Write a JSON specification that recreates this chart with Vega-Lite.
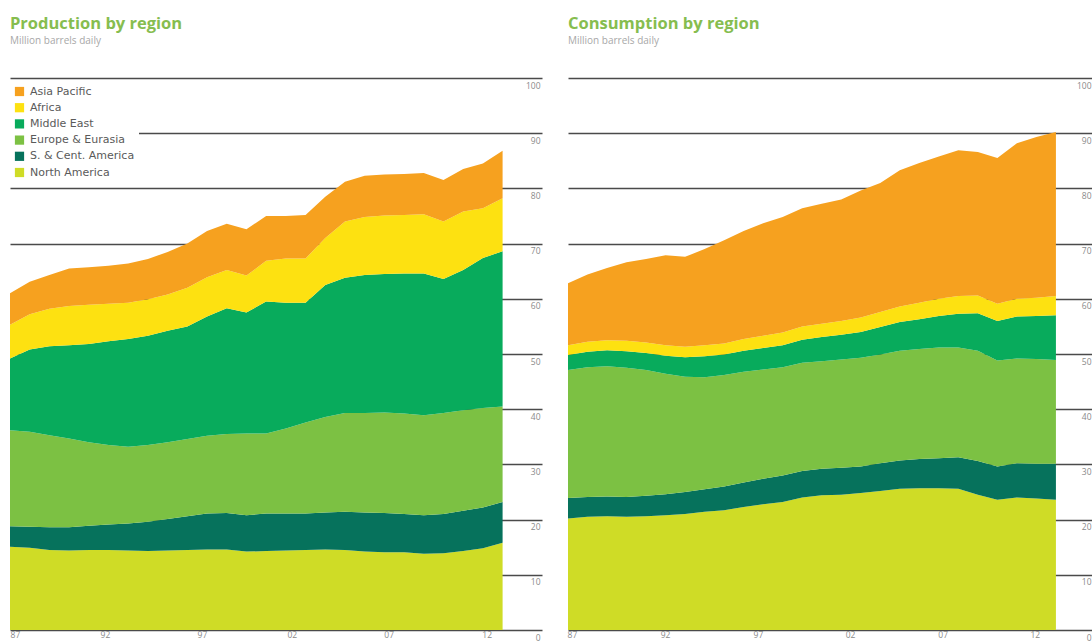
{
"$schema": "https://vega.github.io/schema/vega-lite/v6.json",
"background": "white",
"padding": {"left": 10, "top": 16, "right": 0, "bottom": 0},
"config": {
  "view": {"stroke": null},
  "font": "Open Sans",
  "concat": {"spacing": 25},
  "title": {"anchor": "start", "frame": "group", "fontSize": 16.5, "fontWeight": "bold", "color": "#86bd4f", "subtitleFontSize": 10, "subtitleColor": "#a8a8a8", "subtitlePadding": 3, "offset": 32.5},
  "axisX": {"domain": false, "ticks": false, "tickSize": 0, "grid": false, "labelFlush": false, "labelPadding": 0, "labelFontSize": 8.5, "labelColor": "#8a8a8a", "title": null},
  "axisY": {"orient": "right", "domain": false, "ticks": false, "tickSize": 0, "grid": true, "gridColor": "#4a4a4a", "gridWidth": 1.3, "labelFlush": false, "labelAlign": "right", "labelBaseline": "top", "labelPadding": -2, "labelOffset": 3, "labelFontSize": 8.5, "labelColor": "#8a8a8a", "title": null, "values": [0,10,20,30,40,50,60,70,80,90,100]}
},
"datasets": {
"production": [
{"year":1987,"region":"North America","value":15.1},{"year":1987,"region":"S. & Cent. America","value":3.7},{"year":1987,"region":"Europe & Eurasia","value":17.4},{"year":1987,"region":"Middle East","value":13.0},{"year":1987,"region":"Africa","value":6.1},{"year":1987,"region":"Asia Pacific","value":5.7},
{"year":1988,"region":"North America","value":14.9},{"year":1988,"region":"S. & Cent. America","value":3.8},{"year":1988,"region":"Europe & Eurasia","value":17.2},{"year":1988,"region":"Middle East","value":14.9},{"year":1988,"region":"Africa","value":6.4},{"year":1988,"region":"Asia Pacific","value":5.9},
{"year":1989,"region":"North America","value":14.5},{"year":1989,"region":"S. & Cent. America","value":4.1},{"year":1989,"region":"Europe & Eurasia","value":16.7},{"year":1989,"region":"Middle East","value":16.1},{"year":1989,"region":"Africa","value":6.8},{"year":1989,"region":"Asia Pacific","value":6.1},
{"year":1990,"region":"North America","value":14.4},{"year":1990,"region":"S. & Cent. America","value":4.2},{"year":1990,"region":"Europe & Eurasia","value":16.1},{"year":1990,"region":"Middle East","value":16.9},{"year":1990,"region":"Africa","value":7.1},{"year":1990,"region":"Asia Pacific","value":6.8},
{"year":1991,"region":"North America","value":14.5},{"year":1991,"region":"S. & Cent. America","value":4.4},{"year":1991,"region":"Europe & Eurasia","value":15.1},{"year":1991,"region":"Middle East","value":17.8},{"year":1991,"region":"Africa","value":7.1},{"year":1991,"region":"Asia Pacific","value":6.8},
{"year":1992,"region":"North America","value":14.5},{"year":1992,"region":"S. & Cent. America","value":4.6},{"year":1992,"region":"Europe & Eurasia","value":14.4},{"year":1992,"region":"Middle East","value":18.8},{"year":1992,"region":"Africa","value":6.8},{"year":1992,"region":"Asia Pacific","value":6.9},
{"year":1993,"region":"North America","value":14.4},{"year":1993,"region":"S. & Cent. America","value":4.9},{"year":1993,"region":"Europe & Eurasia","value":13.9},{"year":1993,"region":"Middle East","value":19.5},{"year":1993,"region":"Africa","value":6.6},{"year":1993,"region":"Asia Pacific","value":7.1},
{"year":1994,"region":"North America","value":14.3},{"year":1994,"region":"S. & Cent. America","value":5.3},{"year":1994,"region":"Europe & Eurasia","value":13.9},{"year":1994,"region":"Middle East","value":19.8},{"year":1994,"region":"Africa","value":6.6},{"year":1994,"region":"Asia Pacific","value":7.3},
{"year":1995,"region":"North America","value":14.4},{"year":1995,"region":"S. & Cent. America","value":5.7},{"year":1995,"region":"Europe & Eurasia","value":13.9},{"year":1995,"region":"Middle East","value":20.2},{"year":1995,"region":"Africa","value":6.6},{"year":1995,"region":"Asia Pacific","value":7.7},
{"year":1996,"region":"North America","value":14.5},{"year":1996,"region":"S. & Cent. America","value":6.1},{"year":1996,"region":"Europe & Eurasia","value":14.0},{"year":1996,"region":"Middle East","value":20.4},{"year":1996,"region":"Africa","value":7.0},{"year":1996,"region":"Asia Pacific","value":8.0},
{"year":1997,"region":"North America","value":14.6},{"year":1997,"region":"S. & Cent. America","value":6.5},{"year":1997,"region":"Europe & Eurasia","value":14.1},{"year":1997,"region":"Middle East","value":21.6},{"year":1997,"region":"Africa","value":7.1},{"year":1997,"region":"Asia Pacific","value":8.4},
{"year":1998,"region":"North America","value":14.6},{"year":1998,"region":"S. & Cent. America","value":6.6},{"year":1998,"region":"Europe & Eurasia","value":14.3},{"year":1998,"region":"Middle East","value":22.8},{"year":1998,"region":"Africa","value":6.9},{"year":1998,"region":"Asia Pacific","value":8.4},
{"year":1999,"region":"North America","value":14.2},{"year":1999,"region":"S. & Cent. America","value":6.6},{"year":1999,"region":"Europe & Eurasia","value":14.8},{"year":1999,"region":"Middle East","value":21.9},{"year":1999,"region":"Africa","value":6.7},{"year":1999,"region":"Asia Pacific","value":8.4},
{"year":2000,"region":"North America","value":14.3},{"year":2000,"region":"S. & Cent. America","value":6.8},{"year":2000,"region":"Europe & Eurasia","value":14.5},{"year":2000,"region":"Middle East","value":23.9},{"year":2000,"region":"Africa","value":7.4},{"year":2000,"region":"Asia Pacific","value":8.1},
{"year":2001,"region":"North America","value":14.4},{"year":2001,"region":"S. & Cent. America","value":6.7},{"year":2001,"region":"Europe & Eurasia","value":15.4},{"year":2001,"region":"Middle East","value":22.8},{"year":2001,"region":"Africa","value":8.0},{"year":2001,"region":"Asia Pacific","value":7.7},
{"year":2002,"region":"North America","value":14.5},{"year":2002,"region":"S. & Cent. America","value":6.6},{"year":2002,"region":"Europe & Eurasia","value":16.5},{"year":2002,"region":"Middle East","value":21.7},{"year":2002,"region":"Africa","value":8.0},{"year":2002,"region":"Asia Pacific","value":7.9},
{"year":2003,"region":"North America","value":14.6},{"year":2003,"region":"S. & Cent. America","value":6.7},{"year":2003,"region":"Europe & Eurasia","value":17.3},{"year":2003,"region":"Middle East","value":23.9},{"year":2003,"region":"Africa","value":8.5},{"year":2003,"region":"Asia Pacific","value":7.5},
{"year":2004,"region":"North America","value":14.5},{"year":2004,"region":"S. & Cent. America","value":6.9},{"year":2004,"region":"Europe & Eurasia","value":17.9},{"year":2004,"region":"Middle East","value":24.5},{"year":2004,"region":"Africa","value":10.2},{"year":2004,"region":"Asia Pacific","value":7.2},
{"year":2005,"region":"North America","value":14.2},{"year":2005,"region":"S. & Cent. America","value":7.1},{"year":2005,"region":"Europe & Eurasia","value":18.0},{"year":2005,"region":"Middle East","value":25.0},{"year":2005,"region":"Africa","value":10.5},{"year":2005,"region":"Asia Pacific","value":7.5},
{"year":2006,"region":"North America","value":14.1},{"year":2006,"region":"S. & Cent. America","value":7.1},{"year":2006,"region":"Europe & Eurasia","value":18.2},{"year":2006,"region":"Middle East","value":25.1},{"year":2006,"region":"Africa","value":10.6},{"year":2006,"region":"Asia Pacific","value":7.4},
{"year":2007,"region":"North America","value":14.1},{"year":2007,"region":"S. & Cent. America","value":6.9},{"year":2007,"region":"Europe & Eurasia","value":18.2},{"year":2007,"region":"Middle East","value":25.4},{"year":2007,"region":"Africa","value":10.6},{"year":2007,"region":"Asia Pacific","value":7.4},
{"year":2008,"region":"North America","value":13.8},{"year":2008,"region":"S. & Cent. America","value":7.0},{"year":2008,"region":"Europe & Eurasia","value":18.1},{"year":2008,"region":"Middle East","value":25.7},{"year":2008,"region":"Africa","value":10.7},{"year":2008,"region":"Asia Pacific","value":7.5},
{"year":2009,"region":"North America","value":13.9},{"year":2009,"region":"S. & Cent. America","value":7.1},{"year":2009,"region":"Europe & Eurasia","value":18.3},{"year":2009,"region":"Middle East","value":24.3},{"year":2009,"region":"Africa","value":10.4},{"year":2009,"region":"Asia Pacific","value":7.5},
{"year":2010,"region":"North America","value":14.3},{"year":2010,"region":"S. & Cent. America","value":7.3},{"year":2010,"region":"Europe & Eurasia","value":18.2},{"year":2010,"region":"Middle East","value":25.4},{"year":2010,"region":"Africa","value":10.6},{"year":2010,"region":"Asia Pacific","value":7.7},
{"year":2011,"region":"North America","value":14.8},{"year":2011,"region":"S. & Cent. America","value":7.4},{"year":2011,"region":"Europe & Eurasia","value":18.0},{"year":2011,"region":"Middle East","value":27.2},{"year":2011,"region":"Africa","value":9.0},{"year":2011,"region":"Asia Pacific","value":8.1},
{"year":2012,"region":"North America","value":15.8},{"year":2012,"region":"S. & Cent. America","value":7.4},{"year":2012,"region":"Europe & Eurasia","value":17.3},{"year":2012,"region":"Middle East","value":28.1},{"year":2012,"region":"Africa","value":9.6},{"year":2012,"region":"Asia Pacific","value":8.6}
],
"consumption": [
{"year":1987,"region":"North America","value":20.2},{"year":1987,"region":"S. & Cent. America","value":3.7},{"year":1987,"region":"Europe & Eurasia","value":23.2},{"year":1987,"region":"Middle East","value":2.7},{"year":1987,"region":"Africa","value":1.8},{"year":1987,"region":"Asia Pacific","value":11.2},
{"year":1988,"region":"North America","value":20.5},{"year":1988,"region":"S. & Cent. America","value":3.6},{"year":1988,"region":"Europe & Eurasia","value":23.5},{"year":1988,"region":"Middle East","value":2.8},{"year":1988,"region":"Africa","value":1.8},{"year":1988,"region":"Asia Pacific","value":12.2},
{"year":1989,"region":"North America","value":20.6},{"year":1989,"region":"S. & Cent. America","value":3.6},{"year":1989,"region":"Europe & Eurasia","value":23.6},{"year":1989,"region":"Middle East","value":2.9},{"year":1989,"region":"Africa","value":1.8},{"year":1989,"region":"Asia Pacific","value":13.1},
{"year":1990,"region":"North America","value":20.5},{"year":1990,"region":"S. & Cent. America","value":3.6},{"year":1990,"region":"Europe & Eurasia","value":23.4},{"year":1990,"region":"Middle East","value":3.0},{"year":1990,"region":"Africa","value":1.9},{"year":1990,"region":"Asia Pacific","value":14.2},
{"year":1991,"region":"North America","value":20.6},{"year":1991,"region":"S. & Cent. America","value":3.7},{"year":1991,"region":"Europe & Eurasia","value":22.8},{"year":1991,"region":"Middle East","value":3.1},{"year":1991,"region":"Africa","value":1.9},{"year":1991,"region":"Asia Pacific","value":15.1},
{"year":1992,"region":"North America","value":20.8},{"year":1992,"region":"S. & Cent. America","value":3.8},{"year":1992,"region":"Europe & Eurasia","value":21.8},{"year":1992,"region":"Middle East","value":3.3},{"year":1992,"region":"Africa","value":1.9},{"year":1992,"region":"Asia Pacific","value":16.3},
{"year":1993,"region":"North America","value":21.0},{"year":1993,"region":"S. & Cent. America","value":4.0},{"year":1993,"region":"Europe & Eurasia","value":20.9},{"year":1993,"region":"Middle East","value":3.5},{"year":1993,"region":"Africa","value":1.9},{"year":1993,"region":"Asia Pacific","value":16.3},
{"year":1994,"region":"North America","value":21.4},{"year":1994,"region":"S. & Cent. America","value":4.1},{"year":1994,"region":"Europe & Eurasia","value":20.3},{"year":1994,"region":"Middle East","value":3.8},{"year":1994,"region":"Africa","value":2.0},{"year":1994,"region":"Asia Pacific","value":17.4},
{"year":1995,"region":"North America","value":21.7},{"year":1995,"region":"S. & Cent. America","value":4.3},{"year":1995,"region":"Europe & Eurasia","value":20.2},{"year":1995,"region":"Middle East","value":3.7},{"year":1995,"region":"Africa","value":2.0},{"year":1995,"region":"Asia Pacific","value":18.7},
{"year":1996,"region":"North America","value":22.3},{"year":1996,"region":"S. & Cent. America","value":4.4},{"year":1996,"region":"Europe & Eurasia","value":20.1},{"year":1996,"region":"Middle East","value":3.8},{"year":1996,"region":"Africa","value":2.1},{"year":1996,"region":"Asia Pacific","value":19.6},
{"year":1997,"region":"North America","value":22.8},{"year":1997,"region":"S. & Cent. America","value":4.6},{"year":1997,"region":"Europe & Eurasia","value":19.8},{"year":1997,"region":"Middle East","value":3.9},{"year":1997,"region":"Africa","value":2.2},{"year":1997,"region":"Asia Pacific","value":20.4},
{"year":1998,"region":"North America","value":23.2},{"year":1998,"region":"S. & Cent. America","value":4.8},{"year":1998,"region":"Europe & Eurasia","value":19.6},{"year":1998,"region":"Middle East","value":4.0},{"year":1998,"region":"Africa","value":2.3},{"year":1998,"region":"Asia Pacific","value":20.9},
{"year":1999,"region":"North America","value":24.0},{"year":1999,"region":"S. & Cent. America","value":4.8},{"year":1999,"region":"Europe & Eurasia","value":19.6},{"year":1999,"region":"Middle East","value":4.2},{"year":1999,"region":"Africa","value":2.4},{"year":1999,"region":"Asia Pacific","value":21.4},
{"year":2000,"region":"North America","value":24.4},{"year":2000,"region":"S. & Cent. America","value":4.8},{"year":2000,"region":"Europe & Eurasia","value":19.5},{"year":2000,"region":"Middle East","value":4.4},{"year":2000,"region":"Africa","value":2.4},{"year":2000,"region":"Asia Pacific","value":21.7},
{"year":2001,"region":"North America","value":24.5},{"year":2001,"region":"S. & Cent. America","value":4.9},{"year":2001,"region":"Europe & Eurasia","value":19.6},{"year":2001,"region":"Middle East","value":4.5},{"year":2001,"region":"Africa","value":2.5},{"year":2001,"region":"Asia Pacific","value":22.0},
{"year":2002,"region":"North America","value":24.8},{"year":2002,"region":"S. & Cent. America","value":4.8},{"year":2002,"region":"Europe & Eurasia","value":19.7},{"year":2002,"region":"Middle East","value":4.7},{"year":2002,"region":"Africa","value":2.6},{"year":2002,"region":"Asia Pacific","value":23.0},
{"year":2003,"region":"North America","value":25.2},{"year":2003,"region":"S. & Cent. America","value":5.0},{"year":2003,"region":"Europe & Eurasia","value":19.7},{"year":2003,"region":"Middle East","value":5.0},{"year":2003,"region":"Africa","value":2.7},{"year":2003,"region":"Asia Pacific","value":23.4},
{"year":2004,"region":"North America","value":25.6},{"year":2004,"region":"S. & Cent. America","value":5.1},{"year":2004,"region":"Europe & Eurasia","value":19.9},{"year":2004,"region":"Middle East","value":5.2},{"year":2004,"region":"Africa","value":2.8},{"year":2004,"region":"Asia Pacific","value":24.7},
{"year":2005,"region":"North America","value":25.7},{"year":2005,"region":"S. & Cent. America","value":5.3},{"year":2005,"region":"Europe & Eurasia","value":19.9},{"year":2005,"region":"Middle East","value":5.4},{"year":2005,"region":"Africa","value":3.0},{"year":2005,"region":"Asia Pacific","value":25.3},
{"year":2006,"region":"North America","value":25.7},{"year":2006,"region":"S. & Cent. America","value":5.4},{"year":2006,"region":"Europe & Eurasia","value":20.1},{"year":2006,"region":"Middle East","value":5.7},{"year":2006,"region":"Africa","value":3.1},{"year":2006,"region":"Asia Pacific","value":25.8},
{"year":2007,"region":"North America","value":25.6},{"year":2007,"region":"S. & Cent. America","value":5.7},{"year":2007,"region":"Europe & Eurasia","value":19.9},{"year":2007,"region":"Middle East","value":6.1},{"year":2007,"region":"Africa","value":3.2},{"year":2007,"region":"Asia Pacific","value":26.4},
{"year":2008,"region":"North America","value":24.5},{"year":2008,"region":"S. & Cent. America","value":6.1},{"year":2008,"region":"Europe & Eurasia","value":20.0},{"year":2008,"region":"Middle East","value":6.8},{"year":2008,"region":"Africa","value":3.2},{"year":2008,"region":"Asia Pacific","value":26.0},
{"year":2009,"region":"North America","value":23.6},{"year":2009,"region":"S. & Cent. America","value":6.0},{"year":2009,"region":"Europe & Eurasia","value":19.2},{"year":2009,"region":"Middle East","value":7.2},{"year":2009,"region":"Africa","value":3.1},{"year":2009,"region":"Asia Pacific","value":26.4},
{"year":2010,"region":"North America","value":24.0},{"year":2010,"region":"S. & Cent. America","value":6.2},{"year":2010,"region":"Europe & Eurasia","value":19.0},{"year":2010,"region":"Middle East","value":7.6},{"year":2010,"region":"Africa","value":3.2},{"year":2010,"region":"Asia Pacific","value":28.2},
{"year":2011,"region":"North America","value":23.8},{"year":2011,"region":"S. & Cent. America","value":6.3},{"year":2011,"region":"Europe & Eurasia","value":19.0},{"year":2011,"region":"Middle East","value":7.8},{"year":2011,"region":"Africa","value":3.3},{"year":2011,"region":"Asia Pacific","value":29.1},
{"year":2012,"region":"North America","value":23.6},{"year":2012,"region":"S. & Cent. America","value":6.5},{"year":2012,"region":"Europe & Eurasia","value":18.8},{"year":2012,"region":"Middle East","value":8.1},{"year":2012,"region":"Africa","value":3.5},{"year":2012,"region":"Asia Pacific","value":29.7}
]
},
"resolve": {"scale": {"color": "independent"}, "legend": {"color": "independent"}},
"hconcat": [
{
  "width": 532, "height": 552,
  "title": {"text": "Production by region", "subtitle": "Million barrels daily"},
  "data": {"name": "production"},
  "transform": [{"calculate": "indexof(['North America','S. & Cent. America','Europe & Eurasia','Middle East','Africa','Asia Pacific'], datum.region)", "as": "o"}],
  "mark": {"type": "area", "interpolate": "linear"},
  "encoding": {
    "x": {"field": "year", "type": "quantitative", "scale": {"domain": [1987, 2014], "nice": false, "zero": false},
          "axis": {"values": [1987.25, 1991.82, 1996.74, 2001.3, 2006.22, 2011.19], "labelExpr": "slice(toString(1987 + 5*round((datum.value-1987)/5)), 2)"}},
    "y": {"field": "value", "type": "quantitative", "stack": "zero", "scale": {"domain": [0, 100], "nice": false}},
    "color": {"field": "region", "type": "nominal",
      "scale": {"domain": ["Asia Pacific","Africa","Middle East","Europe & Eurasia","S. & Cent. America","North America"],
                "range": ["#f6a11f","#fde111","#08ab5c","#7cc143","#06725c","#cfdc26"]},
      "legend": {"orient": "none", "legendX": 0, "legendY": 4, "title": null, "fillColor": "white", "padding": 4,
                 "symbolType": "square", "symbolSize": 85, "symbolStrokeWidth": 0, "labelFont": "DejaVu Sans", "labelFontSize": 11, "labelColor": "#5a5a5a",
                 "labelOffset": 5, "rowPadding": 4.2}},
    "order": {"field": "o", "type": "quantitative"}
  }
},
{
  "width": 525, "height": 552,
  "title": {"text": "Consumption by region", "subtitle": "Million barrels daily"},
  "data": {"name": "consumption"},
  "transform": [{"calculate": "indexof(['North America','S. & Cent. America','Europe & Eurasia','Middle East','Africa','Asia Pacific'], datum.region)", "as": "o"}],
  "mark": {"type": "area", "interpolate": "linear"},
  "encoding": {
    "x": {"field": "year", "type": "quantitative", "scale": {"domain": [1987, 2013.9], "nice": false, "zero": false},
          "axis": {"values": [1987.2, 1991.97, 1996.73, 2001.45, 2006.2, 2010.92], "labelExpr": "slice(toString(1987 + 5*round((datum.value-1987)/5)), 2)"}},
    "y": {"field": "value", "type": "quantitative", "stack": "zero", "scale": {"domain": [0, 100], "nice": false}},
    "color": {"field": "region", "type": "nominal",
      "scale": {"domain": ["Asia Pacific","Africa","Middle East","Europe & Eurasia","S. & Cent. America","North America"],
                "range": ["#f6a11f","#fde111","#08ab5c","#7cc143","#06725c","#cfdc26"]},
      "legend": null},
    "order": {"field": "o", "type": "quantitative"}
  }
}
]
}
